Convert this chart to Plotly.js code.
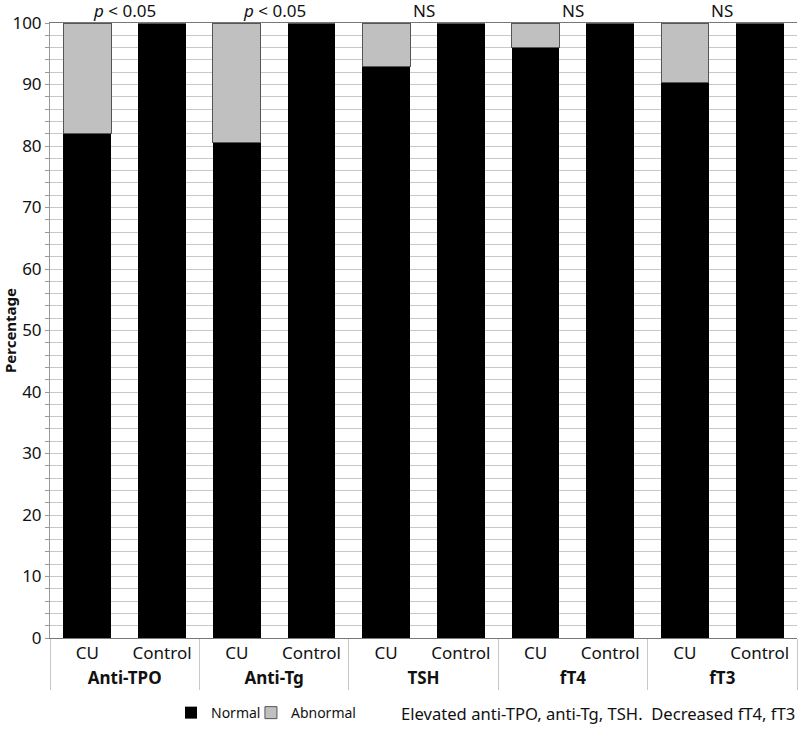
<!DOCTYPE html>
<html>
<head>
<meta charset="utf-8">
<script src="https://cdn.plot.ly/plotly-3.0.1.min.js"></script>
<style>html,body{margin:0;padding:0;background:#fff;}#chart{width:798px;height:730px;}</style>
</head>
<body>
<div id="chart"></div>
<script>
const groups = ['Anti-TPO', 'Anti-Tg', 'TSH', 'fT4', 'fT3'];
const subgroups = ['CU', 'Control'];
const cuNormal = [82.1, 80.6, 92.9, 96.0, 90.3];
const cuAbnormal = [17.9, 19.4, 7.1, 4.0, 9.7];
const controlNormal = [100, 100, 100, 100, 100];
const controlAbnormal = [0, 0, 0, 0, 0];
const significance = ['<i>p</i> &lt; 0.05', '<i>p</i> &lt; 0.05', 'NS', 'NS', 'NS'];
const note = 'Elevated anti-TPO, anti-Tg, TSH.\u00a0\u00a0Decreased fT4, fT3';

const xGroup = [], xSub = [], normalVals = [], abnormalVals = [];
groups.forEach((g, i) => {
  subgroups.forEach((s) => {
    xGroup.push('<b>' + g + '</b>');
    xSub.push(s);
    normalVals.push(s === 'CU' ? cuNormal[i] : controlNormal[i]);
    abnormalVals.push(s === 'CU' ? cuAbnormal[i] : controlAbnormal[i]);
  });
});

const FONT = 'Noto Sans, Open Sans, sans-serif';

const traces = [
  {
    type: 'bar', name: 'Normal', x: [xGroup, xSub], y: normalVals,
    marker: {color: '#000000', line: {color: '#000000', width: 0}},
    hoverinfo: 'y', legend: 'legend'
  },
  {
    type: 'bar', name: 'Abnormal', x: [xGroup, xSub], y: abnormalVals,
    marker: {color: '#c0c0c0', line: {color: '#555555', width: 1}},
    hoverinfo: 'y', legend: 'legend2'
  }
];

const annotations = groups.map((g, i) => ({
  text: significance[i], xref: 'paper', yref: 'paper',
  x: (i + 0.5) / groups.length, y: 1, xanchor: 'center', yanchor: 'bottom',
  showarrow: false, font: {family: FONT, size: 17, color: '#111'}, yshift: -1
}));
annotations.push({
  text: note, xref: 'paper', yref: 'paper', x: 1, y: -0.122,
  xanchor: 'right', yanchor: 'middle', showarrow: false,
  font: {family: FONT, size: 16.6, color: '#111'}
});

const legendBase = {
  orientation: 'h', xanchor: 'left', y: -0.122, yanchor: 'middle',
  font: {family: FONT, size: 14, color: '#111'}, itemwidth: 30,
  bgcolor: 'rgba(0,0,0,0)'
};

const layout = {
  width: 798, height: 730,
  margin: {l: 50, r: 1, t: 23, b: 88},
  paper_bgcolor: '#ffffff', plot_bgcolor: '#ffffff',
  font: {family: FONT, color: '#111'},
  barmode: 'stack', bargap: 0.36,
  showlegend: true,
  legend: Object.assign({x: 0.162}, legendBase),
  legend2: Object.assign({x: 0.269}, legendBase),
  xaxis: {
    type: 'multicategory',
    tickfont: {family: FONT, size: 17, color: '#111'},
    showline: true, linecolor: '#777', linewidth: 1, mirror: true,
    showdividers: true, dividercolor: '#c8c8c8', dividerwidth: 1,
    ticks: '', showgrid: false
  },
  yaxis: {
    range: [0, 100], dtick: 10, tick0: 0,
    tickfont: {family: FONT, size: 17, color: '#111'},
    showline: true, linecolor: '#999', linewidth: 1,
    ticks: 'outside', ticklen: 4, tickcolor: '#999',
    showgrid: true, gridcolor: '#c8c8c8', gridwidth: 1,
    minor: {dtick: 2, showgrid: true, gridcolor: '#c8c8c8', gridwidth: 1, ticks: 'outside', ticklen: 4, tickcolor: '#999'},
    zeroline: false,
    title: {text: '<b>Percentage</b>', font: {family: FONT, size: 15, color: '#111'}, standoff: 6}
  },
  annotations: annotations
};

Plotly.newPlot('chart', traces, layout, {displayModeBar: false, staticPlot: true});
</script>
</body>
</html>
